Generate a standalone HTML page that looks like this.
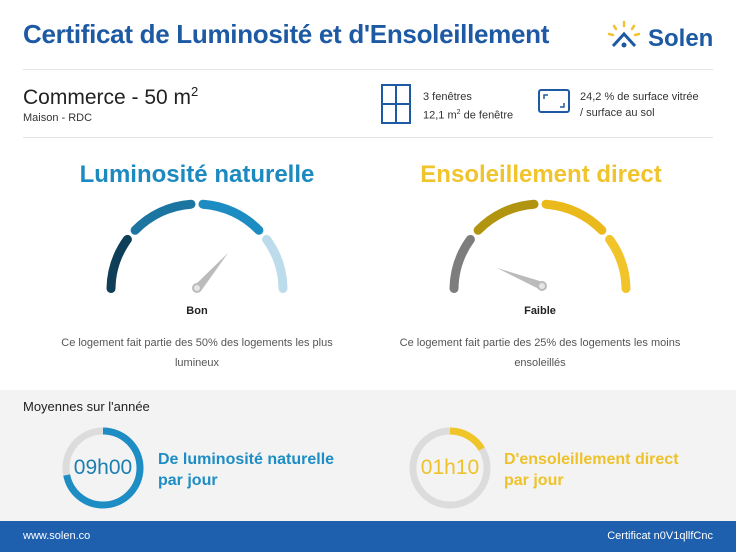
<!DOCTYPE html>
<html><head><meta charset="utf-8"><style>
body{margin:0;width:736px;height:552px;overflow:hidden;background:#fff;font-family:"Liberation Sans",sans-serif;position:relative}
.a{position:absolute;white-space:nowrap}
</style></head><body>
<div class="a" style="left:23px;top:19px;font-size:26px;font-weight:bold;color:#1d5aa3;letter-spacing:-0.3px">Certificat de Luminosité et d'Ensoleillement</div>
<svg class="a" style="left:606px;top:20px" width="36" height="30" viewBox="0 0 36 30">
<g stroke="#f2c230" stroke-width="2.5" stroke-linecap="round"><line x1="18" y1="2" x2="18" y2="6"/><line x1="8" y1="6" x2="10" y2="9"/><line x1="28" y1="6" x2="26" y2="9"/><line x1="3" y1="14" x2="7" y2="15"/><line x1="33" y1="14" x2="29" y2="15"/></g>
<path d="M7 26 L18 14 L29 26" stroke="#1d5aa3" stroke-width="3" fill="none"/><circle cx="18" cy="25" r="2.5" fill="#1d5aa3"/></svg>
<div class="a" style="left:648px;top:25px;font-size:24px;color:#1d5aa3;font-weight:bold">Solen</div>
<div class="a" style="left:23px;top:69px;width:690px;height:1px;background:#e4e4e4"></div>
<div class="a" style="left:23px;top:137px;width:690px;height:1px;background:#e4e4e4"></div>
<div class="a" style="left:23px;top:84px;font-size:21px;color:#222">Commerce - 50 m<sup style="font-size:13px">2</sup></div>
<div class="a" style="left:23px;top:112px;font-size:11px;color:#333">Maison - RDC</div>
<svg class="a" style="left:380px;top:83px" width="32" height="42"><rect x="2" y="2" width="28" height="38" fill="none" stroke="#1d5aa3" stroke-width="2"/><line x1="16" y1="2" x2="16" y2="40" stroke="#1d5aa3" stroke-width="2"/><line x1="2" y1="21" x2="30" y2="21" stroke="#1d5aa3" stroke-width="2"/></svg>
<div class="a" style="left:423px;top:89px;font-size:11px;color:#333;line-height:16px">3 fenêtres<br>12,1 m<sup style="font-size:7px">2</sup> de fenêtre</div>
<svg class="a" style="left:537px;top:88px" width="34" height="26"><rect x="2" y="2" width="30" height="22" rx="2" fill="none" stroke="#1d5aa3" stroke-width="2"/><path d="M7 11V7H11M27 15V19H23" stroke="#1d5aa3" stroke-width="1.5" fill="none"/></svg>
<div class="a" style="left:580px;top:89px;font-size:11px;color:#333;line-height:16px">24,2 % de surface vitrée<br>/ surface au sol</div>

<div class="a" style="left:0;top:161px;width:394px;text-align:center;font-size:24px;font-weight:bold;color:#1c8ac0">Luminosité naturelle</div>
<div class="a" style="left:344px;top:161px;width:394px;text-align:center;font-size:24px;font-weight:bold;color:#efc42c">Ensoleillement direct</div>

<svg class="a" style="left:0;top:0" width="736" height="390">
<g transform="translate(197,290)" fill="none" stroke-width="9" stroke-linecap="round">
<path d="M-86 -1.5 A86 86 0 0 1 -69.6 -50.6" stroke="#0e3e58"/>
<path d="M-61.9 -59.7 A86 86 0 0 1 -6 -85.8" stroke="#1b75a0"/>
<path d="M6 -85.8 A86 86 0 0 1 61.9 -59.7" stroke="#1c8cc2"/>
<path d="M69.6 -50.6 A86 86 0 0 1 86 -1.5" stroke="#bcdcec"/>
<polygon points="-4,-3 4,1 31,-37" fill="#bbbbbb" stroke="none"/>
<circle cx="0" cy="-2" r="4" fill="#e6e6e6" stroke="#bbb" stroke-width="2"/>
</g>
<g transform="translate(540,290)" fill="none" stroke-width="9" stroke-linecap="round">
<path d="M-86 -1.5 A86 86 0 0 1 -69.6 -50.6" stroke="#7d7d7d"/>
<path d="M-61.9 -59.7 A86 86 0 0 1 -6 -85.8" stroke="#b1940f"/>
<path d="M6 -85.8 A86 86 0 0 1 61.9 -59.7" stroke="#eab91c"/>
<path d="M69.6 -50.6 A86 86 0 0 1 86 -1.5" stroke="#f1c52a"/>
<polygon points="3,-8 1,0 -43,-22" fill="#bbbbbb" stroke="none"/>
<circle cx="2" cy="-4" r="4" fill="#e6e6e6" stroke="#bbb" stroke-width="2"/>
</g>
</svg>
<div class="a" style="left:97px;top:305px;width:200px;text-align:center;font-size:11px;font-weight:bold;color:#222">Bon</div>
<div class="a" style="left:440px;top:305px;width:200px;text-align:center;font-size:11px;font-weight:bold;color:#222">Faible</div>
<div class="a" style="left:52px;top:333px;width:290px;text-align:center;font-size:11px;color:#555;line-height:20px;white-space:normal">Ce logement fait partie des 50% des logements les plus lumineux</div>
<div class="a" style="left:390px;top:333px;width:300px;text-align:center;font-size:11px;color:#555;line-height:20px;white-space:normal">Ce logement fait partie des 25% des logements les moins ensoleillés</div>

<div class="a" style="left:0;top:390px;width:736px;height:131px;background:#f3f3f3"></div>
<div class="a" style="left:23px;top:399px;font-size:13px;color:#222">Moyennes sur l'année</div>
<svg class="a" style="left:0;top:390px" width="736" height="131">
<circle cx="103" cy="78" r="37" fill="none" stroke="#dcdcdc" stroke-width="7"/>
<circle cx="103" cy="78" r="37" fill="none" stroke="#1d8dc4" stroke-width="7" stroke-dasharray="167 233" transform="rotate(-90 103 78)"/>
<circle cx="450" cy="78" r="37" fill="none" stroke="#dcdcdc" stroke-width="7"/>
<circle cx="450" cy="78" r="37" fill="none" stroke="#f0c52a" stroke-width="7" stroke-dasharray="38 233" transform="rotate(-90 450 78)"/>
</svg>
<div class="a" style="left:63px;top:456px;width:80px;text-align:center;font-size:21px;color:#1b7fb3">09h00</div>
<div class="a" style="left:410px;top:456px;width:80px;text-align:center;font-size:21px;color:#eec22a">01h10</div>
<div class="a" style="left:158px;top:449px;font-size:16px;font-weight:bold;color:#1d8dc4;line-height:21px">De luminosité naturelle<br>par jour</div>
<div class="a" style="left:504px;top:449px;font-size:16px;font-weight:bold;color:#eec22a;line-height:21px">D'ensoleillement direct<br>par jour</div>

<div class="a" style="left:0;top:521px;width:736px;height:31px;background:#1e5fae"></div>
<div class="a" style="left:23px;top:530px;font-size:11px;color:#fff">www.solen.co</div>
<div class="a" style="right:23px;top:530px;font-size:11px;color:#fff">Certificat n0V1qllfCnc</div>
</body></html>
